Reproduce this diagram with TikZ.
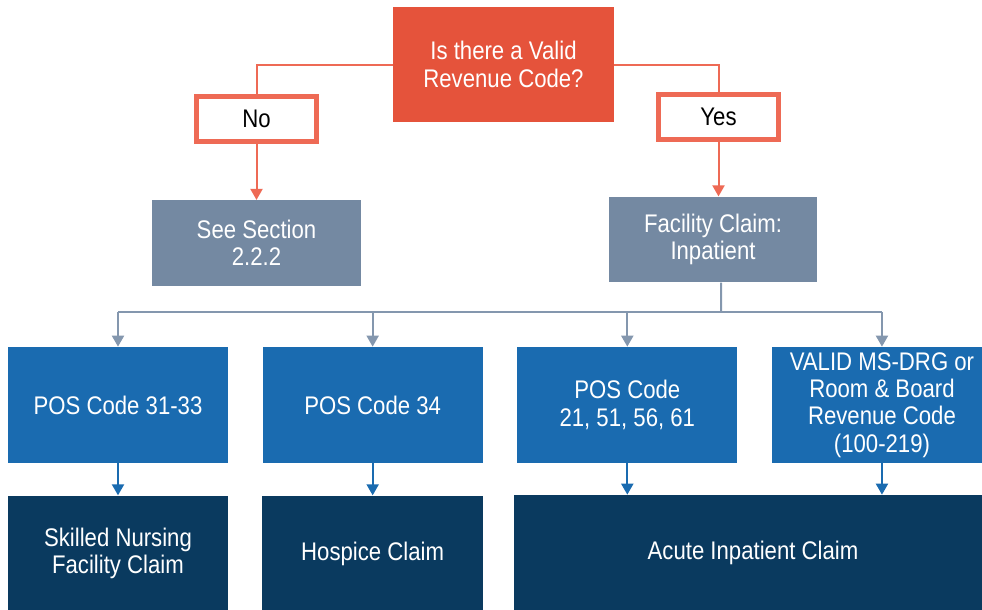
\documentclass[tikz,border=0pt]{standalone}
\usepackage{fontspec}
\setmainfont{Liberation Sans}[FakeStretch=0.87]
\usetikzlibrary{arrows.meta, positioning}
\definecolor{revred}{HTML}{E5533B}
\definecolor{answerred}{HTML}{EE6A55}
\definecolor{slate}{HTML}{7489A2}
\definecolor{slateline}{HTML}{8497AE}
\definecolor{posblue}{HTML}{1A6BB0}
\definecolor{navy}{HTML}{0A3A5F}
\tikzstyle{decision} = [rectangle, minimum width=4.42cm, minimum height=2.3cm, text=white, fill=revred]
\tikzstyle{answer} = [rectangle, minimum width=2.4cm, minimum height=0.9cm, text=black, fill=white, draw=answerred, line width=0.1cm]
\tikzstyle{lookup} = [rectangle, minimum width=4.17cm, minimum height=1.71cm, text=white, fill=slate]
\tikzstyle{criterion} = [rectangle, minimum width=4.4cm, minimum height=2.32cm, inner sep=1pt, text=white, fill=posblue]
\tikzstyle{claim} = [rectangle, minimum width=4.42cm, minimum height=2.32cm, text=white, fill=navy]
\tikzstyle{branch} = [answerred, line width=0.04cm, >={Triangle[width=0.24cm, length=0.22cm]}]
\tikzstyle{feed} = [slateline, line width=0.04cm, >={Triangle[width=0.24cm, length=0.22cm]}]
\tikzstyle{link} = [posblue, line width=0.04cm, ->, >={Triangle[width=0.24cm, length=0.22cm]}]

\begin{document}
\begin{tikzpicture}[x=0.02cm, y=-0.02cm, align=center, node distance=0.68cm, font=\fontsize{14.5pt}{15.5pt}\selectfont]
  \clip (0,0) rectangle (982,609);
  \node (rev) [decision] at (503.5,64.5) {Is there a Valid\\Revenue Code?};
  \node (no) [answer] at (256.5,119) {No};
  \node (yes) [answer] at (718.5,116.5) {Yes};
  \draw [branch] (rev.west) -| (no);
  \draw [branch] (rev.east) -| (yes);
  \node (sec) [lookup] at (256.5,243) {See Section\\2.2.2};
  \node (fac) [lookup] at (713,239.5) {Facility Claim:\\Inpatient};
  \draw [branch, ->] (no) -- (sec);
  \draw [branch, ->] (yes.south) -- (yes.south |- fac.north);
  %Claim types
  \node (pos1) [criterion] at (118,405) {POS Code 31-33};
  \node (pos2) [criterion, right = of pos1] {POS Code 34};
  \node (pos3) [criterion, right = of pos2] {POS Code\\21, 51, 56, 61};
  \node (drg) [criterion, right = of pos3] {VALID MS-DRG or\\Room \& Board\\Revenue Code\\(100-219)};
  \coordinate (bus) at (721,312);
  \draw [feed] ([xshift=0.16cm]fac.south) -- (bus);
  \draw [feed] (pos1.north |- bus) -- (drg.north |- bus);
  \draw [feed, ->] (pos1.north |- bus) -- (pos1);
  \draw [feed, ->] (pos2.north |- bus) -- (pos2);
  \draw [feed, ->] (pos3.north |- bus) -- (pos3);
  \draw [feed, ->] (drg.north |- bus) -- (drg);
  %Outcomes
  \node (snf) [claim, below = 0.64cm of pos1] {Skilled Nursing\\Facility Claim};
  \node (hospice) [claim, below = 0.64cm of pos2] {Hospice Claim};
  \node (acute) [claim, minimum width=9.56cm] at (753,553) {Acute Inpatient Claim};
  \draw [link] (pos1) -- (snf);
  \draw [link] (pos2) -- (hospice);
  \draw [link] (pos3.south) -- (pos3.south |- acute.north);
  \draw [link] (drg.south) -- (drg.south |- acute.north);
\end{tikzpicture}
\end{document}
